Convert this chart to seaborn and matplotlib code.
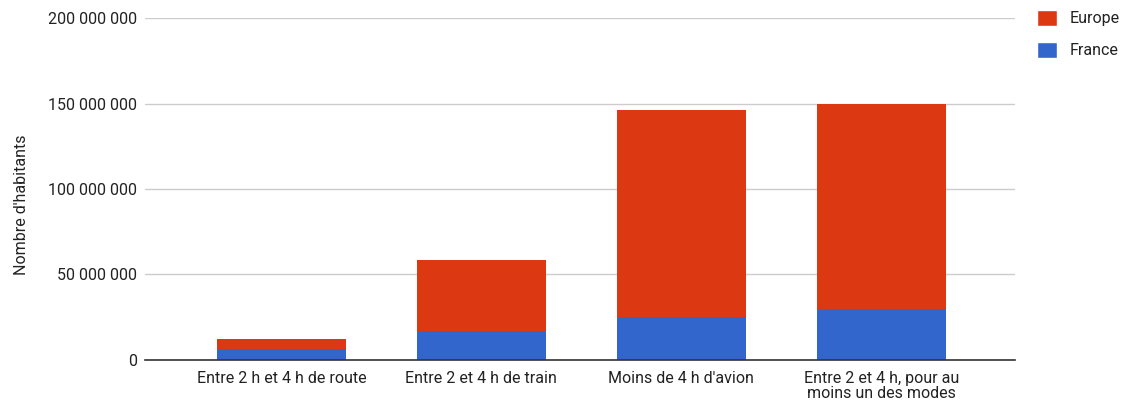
import matplotlib
matplotlib.use("Agg")
import matplotlib.pyplot as plt
from matplotlib.ticker import FuncFormatter
from matplotlib.patches import Patch
import seaborn as sns
import pandas as pd

categories = [
    "Entre 2 h et 4 h de route",
    "Entre 2 et 4 h de train",
    "Moins de 4 h d'avion",
    "Entre 2 et 4 h, pour au\nmoins un des modes",
]
france = [6_500_000, 17_000_000, 25_000_000, 30_000_000]
europe = [5_500_000, 41_500_000, 121_000_000, 120_000_000]
yticks = [0, 50_000_000, 100_000_000, 150_000_000, 200_000_000]

RED = "#DC3912"
BLUE = "#3366CC"
TEXT = "#222222"

sns.set_theme(style="white")
plt.rcParams["font.family"] = ["Roboto", "DejaVu Sans"]

df = pd.DataFrame({
    "categorie": categories,
    "France": france,
    "Europe": europe,
})
df["total"] = df["France"] + df["Europe"]

fig = plt.figure(figsize=(11.27, 4.03), dpi=100)
ax = fig.add_axes([0.129, 0.107, 0.772, 0.848])

# Stacked bars: total (Europe on top) then France at the bottom
sns.barplot(data=df, x="categorie", y="total", color=RED, saturation=1,
            width=0.645, linewidth=0, ax=ax, zorder=3)
sns.barplot(data=df, x="categorie", y="France", color=BLUE, saturation=1,
            width=0.645, linewidth=0, ax=ax, zorder=4)

ax.set_ylim(0, 200_000_000)
ax.set_xlim(-0.68, 3.67)
ax.set_yticks(yticks)
ax.yaxis.set_major_formatter(
    FuncFormatter(lambda v, _: f"{int(v):,}".replace(",", " ")))
ax.grid(axis="y", color="#cccccc", linewidth=1, zorder=0)
ax.set_axisbelow(True)
for s in ["top", "right", "left"]:
    ax.spines[s].set_visible(False)
ax.spines["bottom"].set_color("#333333")
ax.spines["bottom"].set_linewidth(1.2)
ax.spines["bottom"].set_zorder(5)

ax.tick_params(axis="x", length=0, labelsize=11.5, colors=TEXT, pad=8)
ax.tick_params(axis="y", length=0, labelsize=11.5, colors=TEXT, pad=6)
ax.set_xlabel("")
ax.set_ylabel("Nombre d'habitants", fontsize=11.5, color=TEXT)
ax.yaxis.set_label_coords(-0.134, 0.453)
for lbl in ax.get_xticklabels():
    lbl.set_linespacing(1.0)

handles = [Patch(facecolor=RED, label="Europe"),
           Patch(facecolor=BLUE, label="France")]
fig.legend(handles=handles, loc="upper left", bbox_to_anchor=(0.907, 1.012),
           frameon=False, fontsize=11.5, handlelength=1.25, handleheight=1.25,
           handletextpad=0.8, labelspacing=0.95, labelcolor=TEXT)

fig.savefig("out.png", dpi=100, facecolor="white")
